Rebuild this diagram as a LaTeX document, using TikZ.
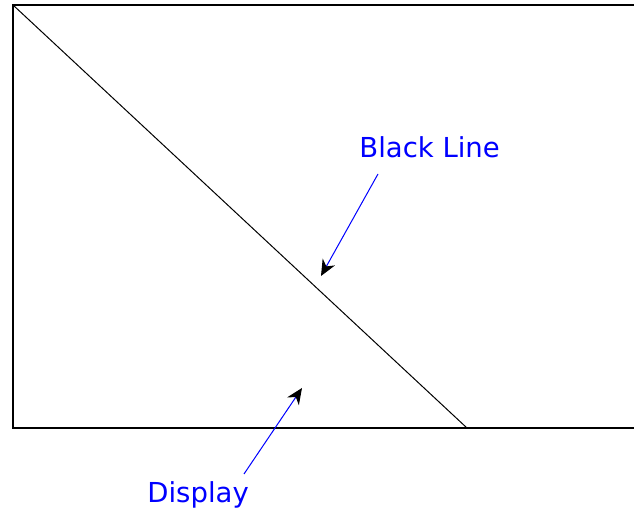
\documentclass[tikz,border=0pt]{standalone}
\usepackage{fontspec}
\setmainfont{DejaVu Sans}
\usetikzlibrary{arrows.meta}

\tikzset{
  pointer/.style={blue, line width=0.5pt, -{Stealth[black,length=8pt,width=7pt,inset=2.5pt]}},
  tag/.style={blue, inner sep=0pt, anchor=base west, font=\fontsize{13.75}{16}\selectfont}
}

\begin{document}
\begin{tikzpicture}[x=0.5pt,y=-0.5pt]
\useasboundingbox (0,0) rectangle (634,513);
\clip (0,0) rectangle (634,513);
% screen
\draw[line width=1pt] (640,5) -- (13,5) -- (13,428) -- (640,428);
\draw[line width=0.5pt] (13,5) -- (467,428);
% labels
\node[tag] (blackline) at (359,158) {Black Line};
\node[tag] (display) at (147,503) {Display};
\coordinate (linefoot) at (378,174);
\coordinate (linetip) at (321,276);
\coordinate (dispfoot) at (244,474);
\coordinate (disptip) at (302,388);
\draw[pointer] (linefoot) -- (linetip);
\draw[pointer] (dispfoot) -- (disptip);
\end{tikzpicture}
\end{document}
